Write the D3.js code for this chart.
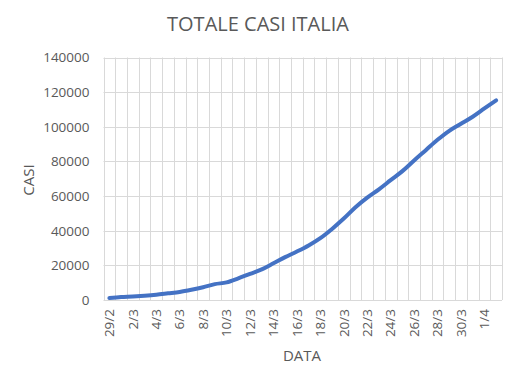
<!DOCTYPE html>
<html><head><meta charset="utf-8">
<script src="https://cdn.jsdelivr.net/npm/d3@7"></script>
<style>body{margin:0;background:#fff}svg{display:block}</style>
</head><body>
<script>
const dates = ["29/2","1/3","2/3","3/3","4/3","5/3","6/3","7/3","8/3","9/3","10/3","11/3","12/3","13/3","14/3","15/3","16/3","17/3","18/3","19/3","20/3","21/3","22/3","23/3","24/3","25/3","26/3","27/3","28/3","29/3","30/3","31/3","1/4","2/4"];
const cases = [1128,1694,2036,2502,3089,3858,4636,5883,7375,9172,10149,12462,15113,17660,21157,24747,27980,31506,35713,41035,47021,53578,59138,63927,69176,74386,80539,86498,92472,97689,101739,105792,110574,115242];
const yTicks = [0,20000,40000,60000,80000,100000,120000,140000];
const title = "TOTALE CASI ITALIA";
const xTitle = "DATA";
const yTitle = "CASI";

const W = 510, H = 380;
const m = {left:103.5, right:8, top:57.5, bottom:80};
const font = "'Open Sans', 'Noto Sans', sans-serif";
const txt = "#595959";
const grid = "#d9d9d9";

const svg = d3.select("body").append("svg").attr("width", W).attr("height", H);
const x = d3.scaleBand().domain(dates).range([m.left, W - m.right]);
const y = d3.scaleLinear().domain([0, 140000]).range([H - m.bottom, m.top]);

// horizontal gridlines
svg.append("g").selectAll("line").data(yTicks).join("line")
  .attr("x1", m.left).attr("x2", W - m.right)
  .attr("y1", d => Math.round(y(d)) + 0.5).attr("y2", d => Math.round(y(d)) + 0.5)
  .attr("stroke", grid).attr("stroke-width", 1);
// vertical gridlines at category boundaries
const bounds = dates.map(d => x(d)).concat([x(dates[dates.length-1]) + x.bandwidth()]);
svg.append("g").selectAll("line").data(bounds).join("line")
  .attr("x1", d => Math.round(d) + 0.5).attr("x2", d => Math.round(d) + 0.5)
  .attr("y1", y(140000)).attr("y2", y(0))
  .attr("stroke", grid).attr("stroke-width", 1);

// y axis labels
const yAxis = d3.axisLeft(y).tickValues(yTicks).tickSize(0).tickPadding(14).tickFormat(d3.format("d"));
const ga = svg.append("g").attr("transform", `translate(${m.left},0)`).call(yAxis);
ga.select(".domain").remove();
ga.selectAll("text").attr("fill", txt).style("font-family", font).style("font-size", "13.5px");

// x axis labels
const xAxis = d3.axisBottom(x).tickValues(dates.filter((d,i) => i % 2 === 0)).tickSize(0).tickPadding(0);
const gx = svg.append("g").attr("transform", `translate(0,${y(0)})`).call(xAxis);
gx.select(".domain").remove();
gx.selectAll("text").attr("fill", txt).style("font-family", font).style("font-size", "13.5px")
  .attr("transform", "rotate(-90)").attr("text-anchor", "end")
  .attr("x", -9).attr("y", 0).attr("dy", "0.35em");

// line
const line = d3.line().x(d => x(d.date) + x.bandwidth()/2).y(d => y(d.v)).curve(d3.curveMonotoneX);
svg.append("path").datum(dates.map((d,i) => ({date:d, v:cases[i]})))
  .attr("d", line).attr("fill", "none").attr("stroke", "#4472c4")
  .attr("stroke-width", 4).attr("stroke-linecap", "round").attr("stroke-linejoin", "round");

// titles
svg.append("text").attr("x", 258).attr("y", 31).attr("text-anchor", "middle")
  .attr("fill", txt).style("font-family", font).style("font-size", "20px").text(title);
svg.append("text").attr("x", 302).attr("y", 361).attr("text-anchor", "middle")
  .attr("fill", txt).style("font-family", font).style("font-size", "15px").text(xTitle);
svg.append("text").attr("transform", "translate(34,180) rotate(-90)").attr("text-anchor", "middle")
  .attr("fill", txt).style("font-family", font).style("font-size", "15px").text(yTitle);
</script>
</body></html>
